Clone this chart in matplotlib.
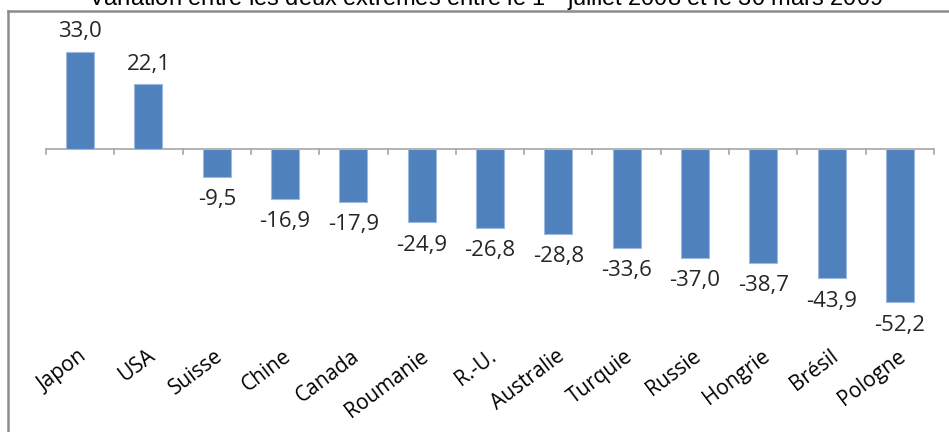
import matplotlib
matplotlib.use("Agg")
import matplotlib.pyplot as plt
from matplotlib.lines import Line2D

# Variation par pays (en %)
pays = ["Japon", "USA", "Suisse", "Chine", "Canada", "Roumanie", "R.-U.",
        "Australie", "Turquie", "Russie", "Hongrie", "Brésil", "Pologne"]
variation = [33.0, 22.1, -9.5, -16.9, -17.9, -24.9, -26.8,
             -28.8, -33.6, -37.0, -38.7, -43.9, -52.2]

plt.rcParams["mathtext.fontset"] = "custom"
plt.rcParams["mathtext.rm"] = "Liberation Sans"

W, H = 949, 432
fig = plt.figure(figsize=(W / 100, H / 100), dpi=100)

# axes placed in pixels: zero line near y=149
left, right = 46, 934
top, bottom = 30, 420
ax = fig.add_axes([left / W, 1 - bottom / H, (right - left) / W, (bottom - top) / H])
scale = 2.94  # pixels per unit
ax.set_ylim(-(bottom - 149) / scale, (149 - top) / scale)
ax.set_xlim(-0.5, len(pays) - 0.5)

x = list(range(len(pays)))
ax.bar(x, variation, width=0.41, color="#4F81BD", edgecolor="#9DB9DD", linewidth=0.8, zorder=2)

for s in ax.spines.values():
    s.set_visible(False)
ax.set_yticks([])
ax.set_xticks([])

# zero line with tick marks between categories
ax.axhline(0, color="#A6A6A6", lw=1.2, zorder=1)
for b in range(len(pays) + 1):
    ax.plot([b - 0.5, b - 0.5], [0, -5 / scale], color="#A6A6A6", lw=1.2, clip_on=False)

# value labels
for xi, v in zip(x, variation):
    txt = f"{v:.1f}".replace(".", ",")
    off = 20 / scale if v >= 0 else -23 / scale
    ax.text(xi, v + off, txt, ha="center", va="center",
            fontsize=16, family="Open Sans", color="#262626")

# category labels
for xi, name in zip(x, pays):
    ax.text(xi + 0.06, -(354 - 149) / scale, name, rotation=37, rotation_mode="anchor",
            ha="right", va="center", fontsize=15, family="Open Sans", color="black")

# title, partly above the frame
fig.text(486 / W, 1 - 6 / H,
         "Variation entre les deux extrêmes entre le 1$^{\\mathrm{er}}$ juillet 2008 et le 30 mars 2009",
         ha="center", va="baseline", fontsize=17, family="Liberation Sans")

# chart frame
fig.add_artist(Line2D([8 / W, 1], [1 - 11 / H, 1 - 11 / H], color="#8C8C8C", lw=1.8))
fig.add_artist(Line2D([8 / W, 8 / W], [0, 1 - 11 / H], color="#8C8C8C", lw=1.8))

fig.savefig("out.png", dpi=100)
